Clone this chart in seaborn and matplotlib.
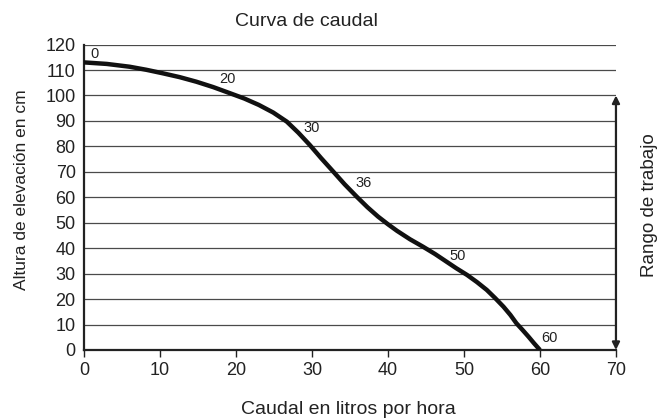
import matplotlib
matplotlib.use("Agg")
import matplotlib.pyplot as plt
import seaborn as sns
import pandas as pd

# values
caudal = [0, 3, 6, 8.2, 10.4, 12.6, 14.8, 17, 19.2, 21.1, 23, 24.9, 26.7, 28.2,
          29.7, 31.2, 32.8, 34.3, 35.9, 37.3, 38.7, 40, 41.2, 42.9, 44.6, 46.2,
          47.7, 49, 50.4, 51.7, 53, 54.1, 55.2, 56.1, 56.9, 57.7, 58.5, 59.2, 60]
altura = [113, 112.4, 111.3, 110.1, 108.7, 107.2, 105.4, 103.3, 100.9, 98.8, 96.3,
          93.3, 89.7, 85.4, 80.6, 75.4, 70.1, 65.1, 60.2, 56.1, 52.4, 49.4, 46.8,
          43.5, 40.6, 37.7, 34.7, 32.1, 29.5, 26.7, 23.6, 20.4, 17, 13.8, 10.5,
          7.9, 5.2, 2.7, 0]

# labelled points on the curve and where their labels sit
etiquetas = ["0", "20", "30", "36", "50", "60"]
etiqueta_x = [1.4, 18.9, 30, 36.8, 49.2, 61.3]
etiqueta_y = [116.3, 106.5, 87.2, 65.6, 36.9, 4.9]

x_ticks = [0, 10, 20, 30, 40, 50, 60, 70]
y_ticks = [0, 10, 20, 30, 40, 50, 60, 70, 80, 90, 100, 110, 120]
rango = [0, 100]

sns.set_style("white")
plt.rcParams["font.family"] = ["Liberation Sans", "DejaVu Sans"]

df = pd.DataFrame({"caudal": caudal, "altura": altura})

fig = plt.figure(figsize=(6.68, 4.19), dpi=100)
ax = fig.add_axes([0.1257, 0.1647, 0.7964, 0.7289])

for yv in y_ticks[1:]:
    ax.axhline(yv, color="#4a4a4a", lw=0.9, zorder=1)

sns.lineplot(data=df, x="caudal", y="altura", color="#111111", lw=3.2, ax=ax, zorder=3)
ax.lines[-1].set_solid_capstyle("butt")
ax.lines[-1].set_solid_joinstyle("round")

for txt, xv, yv in zip(etiquetas, etiqueta_x, etiqueta_y):
    ax.text(xv, yv, txt, fontsize=10.5, ha="center", va="center", color="#222222")

# working range arrow
ax.annotate("", xy=(70, rango[0]), xytext=(70, rango[1]),
            arrowprops=dict(arrowstyle="<|-|>", color="#222222", lw=1.6,
                            mutation_scale=11, shrinkA=0, shrinkB=0),
            annotation_clip=False, zorder=4)

ax.set_xlim(0, 70)
ax.set_ylim(0, 120)
ax.set_xticks(x_ticks)
ax.set_yticks(y_ticks)
ax.tick_params(axis="both", labelsize=13, color="#222222", labelcolor="#222222")
ax.tick_params(axis="x", direction="out", length=5, width=1, bottom=True, pad=4)
ax.tick_params(axis="y", length=0, pad=6)
ax.set_xlabel("")
ax.set_ylabel("")

for side in ["top", "right"]:
    ax.spines[side].set_visible(False)
for side in ["left", "bottom"]:
    ax.spines[side].set_color("#222222")
    ax.spines[side].set_linewidth(1.6)

fig.text(306.7 / 668, 1 - 21 / 419, "Curva de caudal", ha="center", va="center",
         fontsize=14, color="#222222")
fig.text(348 / 668, 1 - 409 / 419, "Caudal en litros por hora", ha="center", va="center",
         fontsize=14, color="#222222")
fig.text(21.7 / 668, 1 - 190 / 419, "Altura de elevación en cm", ha="center", va="center",
         rotation=90, fontsize=12.5, color="#222222")
fig.text(650 / 668, 1 - 205 / 419, "Rango de trabajo", ha="center", va="center",
         rotation=90, fontsize=13.5, color="#222222")

fig.savefig("out.png", dpi=100)
